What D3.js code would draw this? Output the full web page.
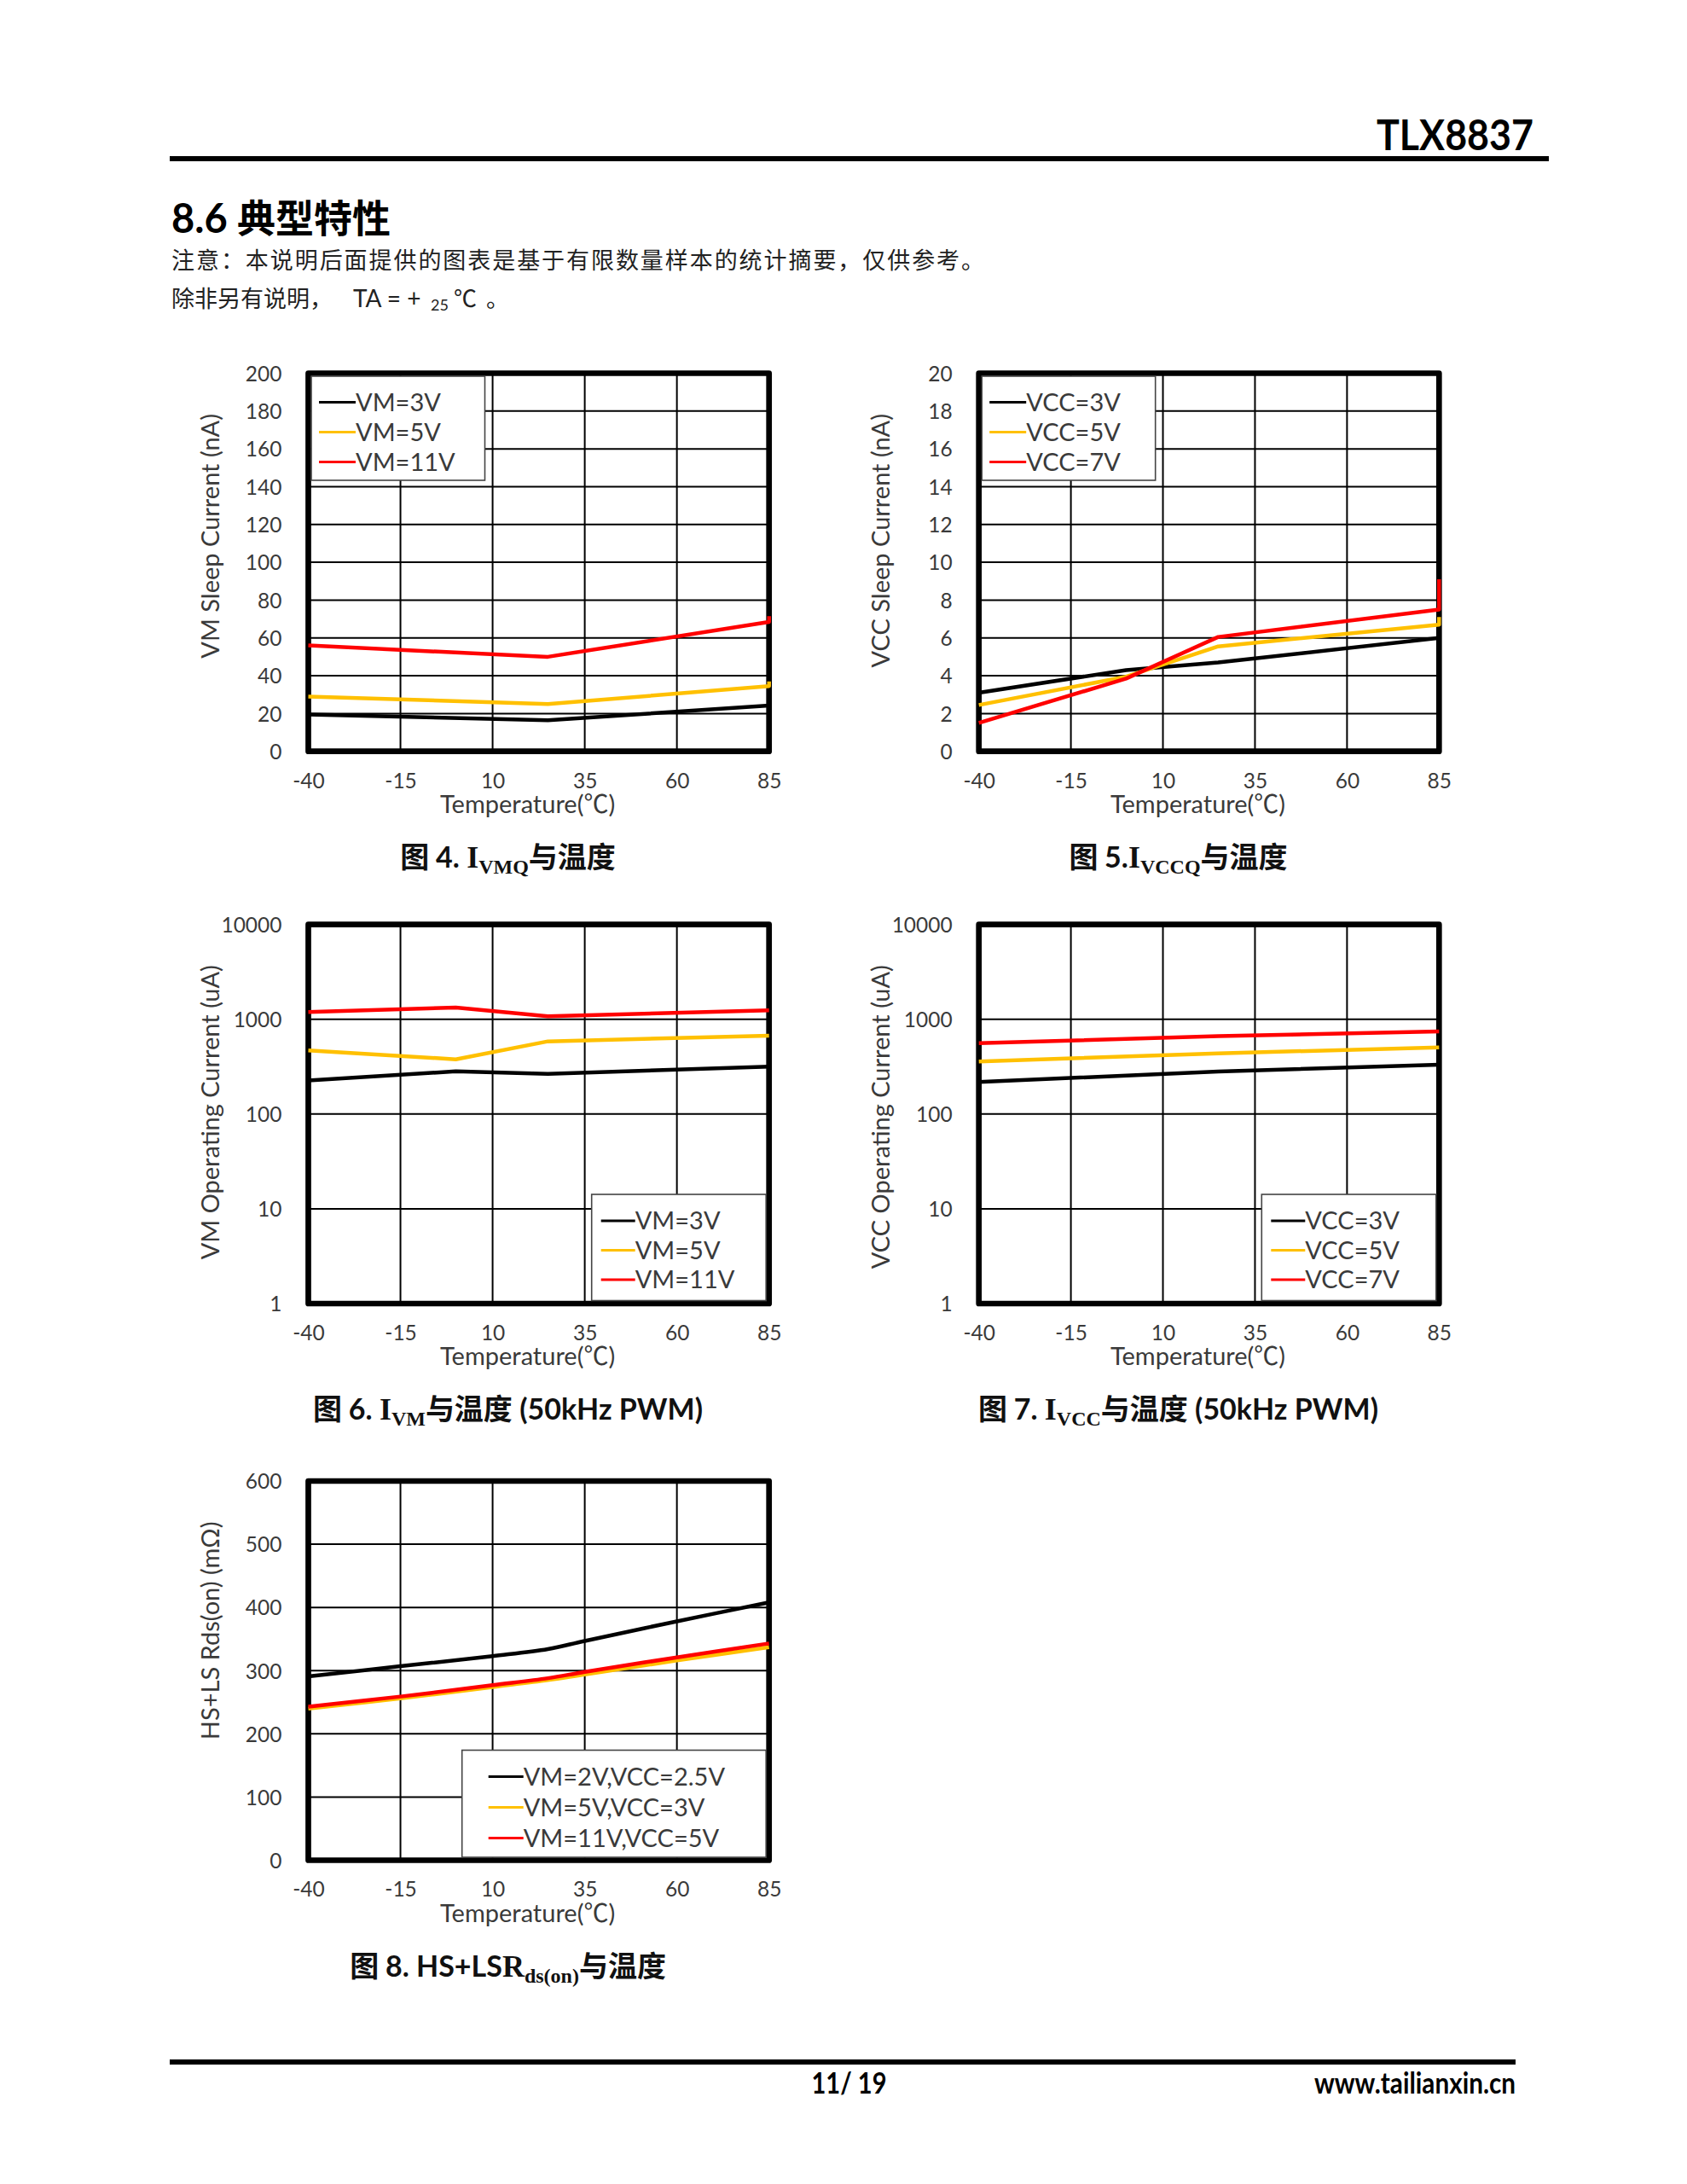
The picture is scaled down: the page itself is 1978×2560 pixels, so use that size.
<!DOCTYPE html>
<html><head><meta charset="utf-8">
<script src="https://cdn.jsdelivr.net/npm/d3@7"></script>
<style>body{margin:0;background:#fff} svg{display:block}</style>
</head><body>
<script>
// ---------------- data ----------------
const xTicks = [-40, -15, 10, 35, 60, 85];
const seriesColors = ["#000000", "#FFC000", "#FF0000"];

// Fig 4: VM sleep current (nA)
const sleepVmTemps = [-40, 25, 85, 85];
const sleepVm3V  = [19.5, 16.5, 24.2, null];
const sleepVm5V  = [29, 25, 34.5, 37];
const sleepVm11V = [56, 50, 68.5, 71.5];
const sleepVmTicks = [0, 20, 40, 60, 80, 100, 120, 140, 160, 180, 200];
const sleepVmLegend = ["VM=3V", "VM=5V", "VM=11V"];

// Fig 5: VCC sleep current (nA)
const sleepVccTemps = [-40, 0, 25, 85, 85];
const sleepVcc3V = [3.1, 4.3, 4.7, 6.0, null];
const sleepVcc5V = [2.45, 3.95, 5.55, 6.7, 7.1];
const sleepVcc7V = [1.5, 3.85, 6.05, 7.5, 9.1];
const sleepVccTicks = [0, 2, 4, 6, 8, 10, 12, 14, 16, 18, 20];
const sleepVccLegend = ["VCC=3V", "VCC=5V", "VCC=7V"];

// Fig 6: VM operating current (uA), log axis
const opVmTemps = [-40, 0, 25, 85];
const opVm3V  = [226, 282, 265, 317];
const opVm5V  = [470, 378, 585, 670];
const opVm11V = [1195, 1330, 1075, 1245];
const logTicks = [1, 10, 100, 1000, 10000];
const opVmLegend = ["VM=3V", "VM=5V", "VM=11V"];

// Fig 7: VCC operating current (uA), log axis
const opVccTemps = [-40, 25, 85];
const opVcc3V = [218, 281, 331];
const opVcc5V = [359, 436, 506];
const opVcc7V = [559, 664, 745];
const opVccLegend = ["VCC=3V", "VCC=5V", "VCC=7V"];

// Fig 8: HS+LS Rds(on) (mOhm)
const rdsTemps = [-40, -15, 10, 25, 35, 60, 85];
const rdsVm2  = [291, 307, 323, 334, 347, 378, 408];
const rdsVm5  = [240, 256, 274, 285, 294, 316, 337];
const rdsVm11 = [243, 259, 277, 288, 298, 321, 343];
const rdsTicks = [0, 100, 200, 300, 400, 500, 600];
const rdsLegend = ["VM=2V,VCC=2.5V", "VM=5V,VCC=3V", "VM=11V,VCC=5V"];

// ---------------- fonts ----------------
const LAT = "Lato, 'Noto Sans', sans-serif";
const LATC = "Lato, 'Noto Sans CJK SC', sans-serif";
const CJK = "'Noto Sans CJK SC', sans-serif";
const SER = "'Liberation Serif', 'DejaVu Serif', serif";
const GREY = "#3a3a3a";
const fmt = d => String(d);

const W = 1978, H = 2560;
const svg = d3.select("body").append("svg").attr("width", W).attr("height", H);
svg.append("rect").attr("width", W).attr("height", H).attr("fill", "#fff");

// ---------------- header ----------------
svg.append("text").attr("x", 1798).attr("y", 176).attr("text-anchor", "end")
  .attr("font-family", LAT).attr("font-weight", 700).attr("font-size", 50)
  .attr("textLength", 184).attr("lengthAdjust", "spacingAndGlyphs").text("TLX8837");
svg.append("rect").attr("x", 199).attr("y", 183).attr("width", 1617).attr("height", 6).attr("fill", "#000");

const ttl = svg.append("text").attr("x", 201).attr("y", 273).attr("font-weight", 700);
ttl.append("tspan").attr("font-family", LAT).attr("font-size", 47).text("8.6 ");
ttl.append("tspan").attr("font-family", CJK).attr("font-size", 45).text("典型特性");

svg.append("text").attr("x", 201).attr("y", 315).attr("font-family", CJK).attr("font-size", 27)
  .attr("fill", "#222").attr("textLength", 953).attr("lengthAdjust", "spacing")
  .text("注意：本说明后面提供的图表是基于有限数量样本的统计摘要，仅供参考。");
const n2 = svg.append("text").attr("x", 201).attr("y", 360).attr("font-family", CJK).attr("font-size", 27).attr("fill", "#222");
n2.append("tspan").text("除非另有说明，");
n2.append("tspan").attr("x", 414).attr("font-family", LAT).attr("font-size", 28).text("TA = + ");
n2.append("tspan").attr("x", 505).attr("font-family", LAT).attr("font-size", 18).attr("dy", 4).text("25");
n2.append("tspan").attr("x", 532).attr("dy", -4).text("℃");
n2.append("tspan").attr("x", 570).text("。");

// ---------------- footer ----------------
svg.append("rect").attr("x", 199).attr("y", 2414).attr("width", 1578).attr("height", 6).attr("fill", "#000");
svg.append("text").attr("x", 995.5).attr("y", 2454).attr("text-anchor", "middle")
  .attr("font-family", LAT).attr("font-weight", 700).attr("font-size", 34)
  .attr("textLength", 88).attr("lengthAdjust", "spacingAndGlyphs").text("11/ 19");
svg.append("text").attr("x", 1777).attr("y", 2454).attr("text-anchor", "end")
  .attr("font-family", LAT).attr("font-weight", 700).attr("font-size", 34)
  .attr("textLength", 236).attr("lengthAdjust", "spacingAndGlyphs").text("www.tailianxin.cn");

// ---------------- charts ----------------
const COLL = [361.5, 901.7], COLR = [1147.7, 1687.3];
const ROW1 = [437.5, 880.7], ROW2 = [1083.7, 1528], ROW3 = [1736, 2180.5];

const charts = [
  { col: COLL, row: ROW1, log: false, yDomain: [0, 200], yTicks: sleepVmTicks, temps: sleepVmTemps,
    series: [sleepVm3V, sleepVm5V, sleepVm11V], legend: sleepVmLegend, legendPos: "tl",
    ytitle: "VM Sleep Current (nA)",
    caption: [["图 ", "cjk"], ["4. ", "lat"], ["I", "ser"], ["VMQ", "sub"], ["与温度", "cjk"]] },
  { col: COLR, row: ROW1, log: false, yDomain: [0, 20], yTicks: sleepVccTicks, temps: sleepVccTemps,
    series: [sleepVcc3V, sleepVcc5V, sleepVcc7V], legend: sleepVccLegend, legendPos: "tl",
    ytitle: "VCC Sleep Current (nA)",
    caption: [["图 ", "cjk"], ["5.", "lat"], ["I", "ser"], ["VCCQ", "sub"], ["与温度", "cjk"]] },
  { col: COLL, row: ROW2, log: true, yDomain: [1, 10000], yTicks: logTicks, temps: opVmTemps,
    series: [opVm3V, opVm5V, opVm11V], legend: opVmLegend, legendPos: "br",
    ytitle: "VM Operating Current (uA)",
    caption: [["图 ", "cjk"], ["6. ", "lat"], ["I", "ser"], ["VM", "sub"], ["与温度", "cjk"], [" (50kHz PWM)", "lat"]] },
  { col: COLR, row: ROW2, log: true, yDomain: [1, 10000], yTicks: logTicks, temps: opVccTemps,
    series: [opVcc3V, opVcc5V, opVcc7V], legend: opVccLegend, legendPos: "br",
    ytitle: "VCC Operating Current (uA)",
    caption: [["图 ", "cjk"], ["7. ", "lat"], ["I", "ser"], ["VCC", "sub"], ["与温度", "cjk"], [" (50kHz PWM)", "lat"]] },
  { col: COLL, row: ROW3, log: false, yDomain: [0, 600], yTicks: rdsTicks, temps: rdsTemps,
    series: [rdsVm2, rdsVm5, rdsVm11], legend: rdsLegend, legendPos: "brw", smooth: true,
    ytitle: "HS+LS Rds(on) (mΩ)",
    caption: [["图 ", "cjk"], ["8. ", "lat"], ["HS+LS", "lat"], ["R", "ser"], ["ds(on)", "sub"], ["与温度", "cjk"]] }
];

function drawChart(c) {
  const [x0, x1] = c.col, [y0, y1] = c.row;
  const g = svg.append("g");
  const x = d3.scaleLinear().domain([-40, 85]).range([x0, x1]);
  const y = (c.log ? d3.scaleLog() : d3.scaleLinear()).domain(c.yDomain).range([y1, y0]);

  // gridlines
  g.append("g").selectAll("line").data(c.yTicks).join("line")
    .attr("x1", x0).attr("x2", x1).attr("y1", d => y(d)).attr("y2", d => y(d))
    .attr("stroke", "#000").attr("stroke-width", 2);
  g.append("g").selectAll("line").data(xTicks).join("line")
    .attr("x1", d => x(d)).attr("x2", d => x(d)).attr("y1", y0).attr("y2", y1)
    .attr("stroke", "#000").attr("stroke-width", 2);

  // border
  g.append("rect").attr("x", x0).attr("y", y0).attr("width", x1 - x0).attr("height", y1 - y0)
    .attr("fill", "none").attr("stroke", "#000").attr("stroke-width", 6.7).attr("stroke-linejoin", "round");

  // axes
  const ya = d3.axisLeft(y).tickValues(c.yTicks).tickSize(0).tickPadding(31).tickFormat(fmt);
  g.append("g").attr("transform", `translate(${x0},0)`).call(ya)
    .call(s => s.select(".domain").remove())
    .selectAll("text").attr("font-family", LAT).attr("font-size", 24.5).attr("fill", GREY).attr("dy", "0.36em");
  const xa = d3.axisBottom(x).tickValues(xTicks).tickSize(0).tickFormat(fmt);
  g.append("g").attr("transform", `translate(0,${y1})`).call(xa)
    .call(s => s.select(".domain").remove())
    .selectAll("text").attr("font-family", LAT).attr("font-size", 24.5).attr("fill", GREY)
    .attr("y", 34).attr("dy", "0.36em");

  // axis titles
  g.append("text").attr("transform", `translate(${x0 - 115},${y0 + 47.5}) rotate(-90)`)
    .attr("text-anchor", "end").attr("dy", "0.36em")
    .attr("font-family", LAT).attr("font-size", 29).attr("fill", GREY).text(c.ytitle);
  g.append("text").attr("x", (x0 + x1) / 2 - 13).attr("y", y1 + 62).attr("dy", "0.36em")
    .attr("text-anchor", "middle").attr("font-family", LATC).attr("font-size", 29).attr("fill", GREY)
    .text("Temperature(℃)");

  // data lines
  const line = d3.line().defined(d => d[1] != null).x(d => x(d[0])).y(d => y(d[1]))
    .curve(c.smooth ? d3.curveCatmullRom.alpha(0.5) : d3.curveLinear);
  c.series.forEach((vals, i) => {
    const pts = c.temps.map((t, j) => [t, vals[j]]);
    g.append("path").attr("d", line(pts)).attr("fill", "none").attr("stroke", seriesColors[i])
      .attr("stroke-width", 4.5).attr("stroke-linejoin", "round").attr("stroke-linecap", "butt");
  });

  // legend
  let box, ey, lx0, lx1;
  if (c.legendPos === "tl") {
    box = [x0 + 3.5, y0 + 3.5, 203.5, 122];
    ey = i => y0 + 34 + i * 35; lx0 = x0 + 12.5; lx1 = x0 + 55.5;
  } else if (c.legendPos === "br") {
    box = [x1 - 208, y1 - 128, 204.5, 124.5];
    ey = i => y1 - 97 + i * 34.5; lx0 = x1 - 197; lx1 = x1 - 157;
  } else {
    box = [x1 - 360, y1 - 129, 356.5, 125.5];
    ey = i => y1 - 98 + i * 36; lx0 = x1 - 329; lx1 = x1 - 288;
  }
  const lg = g.append("g");
  lg.append("rect").attr("x", box[0]).attr("y", box[1]).attr("width", box[2]).attr("height", box[3])
    .attr("fill", "#fff").attr("stroke", "#444").attr("stroke-width", 1.6);
  c.legend.forEach((name, i) => {
    lg.append("line").attr("x1", lx0).attr("x2", lx1).attr("y1", ey(i)).attr("y2", ey(i))
      .attr("stroke", seriesColors[i]).attr("stroke-width", 3);
    lg.append("text").attr("x", lx1).attr("y", ey(i)).attr("dy", "0.36em")
      .attr("font-family", LAT).attr("font-size", 29).attr("fill", GREY).text(name);
  });

  // caption
  const cap = g.append("text").attr("x", (x0 + x1) / 2 - 36).attr("y", y1 + 136)
    .attr("text-anchor", "middle").attr("font-weight", 700).attr("font-size", 34).attr("fill", "#111");
  let shifted = false;
  c.caption.forEach(([t, kind]) => {
    const ts = cap.append("tspan").text(t);
    if (kind === "cjk") ts.attr("font-family", CJK);
    else if (kind === "lat") ts.attr("font-family", LAT);
    else if (kind === "ser") ts.attr("font-family", SER).attr("font-size", 36);
    if (kind === "sub") {
      ts.attr("font-family", SER).attr("font-size", 24).attr("dy", 7);
      shifted = true;
    } else if (shifted) {
      ts.attr("dy", -7); shifted = false;
    }
  });
}

charts.forEach(drawChart);
</script>
</body></html>
